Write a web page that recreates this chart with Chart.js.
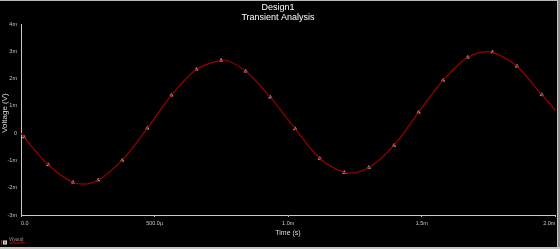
<!DOCTYPE html>
<html>
<head>
<meta charset="utf-8">
<script src="https://cdn.jsdelivr.net/npm/chart.js@4.4.1/dist/chart.umd.min.js"></script>
<style>
    html, body { margin: 0; padding: 0; background: #000; overflow: hidden; }
    canvas { display: block; }
</style>
</head>
<body>
<canvas id="chartTransient" width="560" height="249"></canvas>
<script>
// values (time in ms, voltage in mV)
const markerTimes = [0.011, 0.102, 0.195, 0.289, 0.379, 0.473, 0.563, 0.657, 0.749, 0.841, 0.933,
    1.026, 1.118, 1.210, 1.302, 1.396, 1.488, 1.580, 1.672, 1.764, 1.856, 1.949];
const markerVolts = [-0.14, -1.16, -1.80, -1.72, -0.99, 0.18, 1.39, 2.34, 2.67, 2.27, 1.32,
    0.16, -0.93, -1.44, -1.26, -0.45, 0.77, 1.94, 2.78, 2.97, 2.45, 1.41];

const curveTimes = [0, 0.011, 0.102, 0.195, 0.235, 0.289, 0.379, 0.473, 0.563, 0.657, 0.749, 0.757, 0.841, 0.933,
    1.026, 1.118, 1.210, 1.228, 1.302, 1.396, 1.488, 1.580, 1.672, 1.750, 1.764, 1.856, 1.949, 2.0];
const curveVolts = [0, -0.14, -1.16, -1.80, -1.87, -1.72, -0.99, 0.18, 1.39, 2.34, 2.67, 2.68, 2.27, 1.32,
    0.16, -0.93, -1.44, -1.47, -1.26, -0.45, 0.77, 1.94, 2.78, 2.99, 2.97, 2.45, 1.41, 0.83];

const xTicks = [0, 0.5, 1, 1.5, 2];
const xTickLabels = ['0.0', '500.0µ', '1.0m', '1.5m', '2.0m'];
const yTicks = [-3, -2, -1, 0, 1, 2, 3, 4];
const yTickLabels = ['-3m', '-2m', '-1m', '0', '1m', '2m', '3m', '4m'];

const titleLines = ['Design1', 'Transient Analysis'];
const xTitle = 'Time (s)';
const yTitle = 'Voltage (V)';
const seriesName = 'V(vout)';

const fontFamily = '"Liberation Sans", Arial, sans-serif';

const decor = {
    id: 'decor',
    beforeDraw(chart) {
        const ctx = chart.ctx;
        ctx.save();
        ctx.fillStyle = '#000';
        ctx.fillRect(0, 0, chart.width, chart.height);
        ctx.restore();
    },
    afterDraw(chart) {
        const ctx = chart.ctx;
        const xScale = chart.scales.x;
        ctx.save();

        // titulo
        ctx.fillStyle = '#ffffff';
        ctx.textAlign = 'center';
        ctx.textBaseline = 'alphabetic';
        ctx.font = '9px ' + fontFamily;
        ctx.fillText(titleLines[0], 278, 9.5);
        ctx.fillText(titleLines[1], 278, 19.5);

        // x tick labels: first left, last right, others centered
        ctx.font = '5.5px ' + fontFamily;
        ctx.fillStyle = '#c4c4c4';
        ctx.textBaseline = 'middle';
        xTicks.forEach((v, i) => {
            const px = xScale.getPixelForValue(v);
            ctx.textAlign = i === 0 ? 'left' : (i === xTicks.length - 1 ? 'right' : 'center');
            ctx.fillText(xTickLabels[i], px, 223);
        });

        // axis titles
        ctx.fillStyle = '#dcdcdc';
        ctx.textAlign = 'center';
        ctx.font = '7px ' + fontFamily;
        ctx.fillText(xTitle, 288, 233);
        ctx.save();
        ctx.translate(5, 113);
        ctx.rotate(-Math.PI / 2);
        ctx.font = '8px ' + fontFamily;
        ctx.fillText(yTitle, 0, 0);
        ctx.restore();

        // legend bottom-left
        ctx.fillStyle = '#d00000';
        ctx.fillRect(1, 240, 1.3, 5);
        ctx.fillStyle = '#e0e0e0';
        ctx.fillRect(3, 240.5, 4, 4);
        ctx.fillStyle = '#808080';
        ctx.fillRect(4, 241.5, 2, 2);
        ctx.fillStyle = '#a0a0a0';
        ctx.font = '4.5px ' + fontFamily;
        ctx.textAlign = 'left';
        ctx.textBaseline = 'alphabetic';
        ctx.fillText(seriesName, 9, 241);
        ctx.strokeStyle = '#c00000';
        ctx.lineWidth = 1;
        ctx.beginPath();
        ctx.moveTo(9, 243);
        ctx.lineTo(25, 243);
        ctx.stroke();

        // window frame
        ctx.fillStyle = '#b8b8b8';
        ctx.fillRect(0, 0, chart.width, 1);
        ctx.fillStyle = '#c8c8c8';
        ctx.fillRect(557, 0, 1, chart.height);
        ctx.fillStyle = '#8c8c8c';
        ctx.fillRect(558, 0, 2, chart.height);
        ctx.fillStyle = '#c4c4c4';
        ctx.fillRect(0, 247, chart.width, 2);

        ctx.restore();
    }
};

const ctx = document.getElementById('chartTransient').getContext('2d');

new Chart(ctx, {
    type: 'line',
    data: {
        datasets: [{
            label: seriesName,
            data: curveTimes.map((t, i) => ({ x: t, y: curveVolts[i] })),
            borderColor: '#9a0000',
            borderWidth: 1.2,
            pointRadius: 0,
            cubicInterpolationMode: 'monotone',
            fill: false
        }, {
            label: seriesName + ' markers',
            data: markerTimes.map((t, i) => ({ x: t, y: markerVolts[i] })),
            showLine: false,
            pointStyle: 'triangle',
            pointRadius: 2,
            backgroundColor: '#d8d8d8',
            borderColor: '#909090',
            borderWidth: 0.6
        }]
    },
    options: {
        responsive: false,
        animation: false,
        layout: { padding: { left: 0, right: 4, top: 24, bottom: 0 } },
        plugins: {
            legend: { display: false },
            tooltip: { enabled: false },
            title: { display: false }
        },
        scales: {
            x: {
                type: 'linear',
                min: 0,
                max: 2,
                afterBuildTicks: s => { s.ticks = xTicks.map(v => ({ value: v })); },
                afterFit: s => { s.height = 34; },
                ticks: { display: false },
                grid: { drawOnChartArea: false, drawTicks: true, tickLength: 2, color: '#c0c0c0' },
                border: { color: '#c8c8c8', width: 1 }
            },
            y: {
                type: 'linear',
                min: -3,
                max: 4,
                afterBuildTicks: s => { s.ticks = yTicks.map(v => ({ value: v })); },
                afterFit: s => { s.width = 21; },
                ticks: {
                    color: '#c4c4c4',
                    padding: 4,
                    font: { size: 5.5, family: fontFamily },
                    callback: v => yTickLabels[yTicks.indexOf(v)]
                },
                grid: { drawOnChartArea: false, drawTicks: false },
                border: { color: '#c8c8c8', width: 1 }
            }
        }
    },
    plugins: [decor]
});
</script>
</body>
</html>
